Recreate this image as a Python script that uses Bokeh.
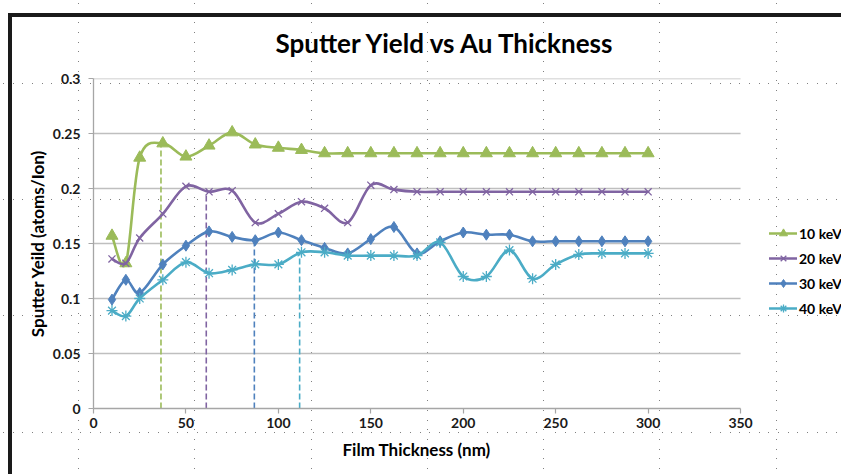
import numpy as np
from bokeh.plotting import figure
from bokeh.models import Range1d, FixedTicker, Legend, LegendItem, Title
from bokeh.embed import file_html
from bokeh.resources import INLINE

# ---------------- data ----------------
thickness = [10, 17.5, 25, 37.5, 50, 62.5, 75, 87.5, 100, 112.5, 125, 137.5, 150,
             162.5, 175, 187.5, 200, 212.5, 225, 237.5, 250, 262.5, 275, 287.5, 300]

y_10kev = [0.157, 0.132, 0.228, 0.241, 0.229, 0.239, 0.251, 0.240, 0.237, 0.235,
           0.232, 0.232, 0.232, 0.232, 0.232, 0.232, 0.232, 0.232, 0.232, 0.232,
           0.232, 0.232, 0.232, 0.232, 0.232]
y_20kev = [0.136, 0.132, 0.155, 0.177, 0.202, 0.197, 0.198, 0.169, 0.177, 0.188,
           0.182, 0.169, 0.203, 0.199, 0.197, 0.197, 0.197, 0.197, 0.197, 0.197,
           0.197, 0.197, 0.197, 0.197, 0.197]
y_30kev = [0.099, 0.117, 0.105, 0.131, 0.148, 0.161, 0.156, 0.153, 0.160, 0.153,
           0.146, 0.141, 0.154, 0.165, 0.141, 0.152, 0.160, 0.158, 0.158, 0.152,
           0.152, 0.152, 0.152, 0.152, 0.152]
y_40kev = [0.089, 0.084, 0.100, 0.117, 0.133, 0.123, 0.126, 0.131, 0.131, 0.142,
           0.142, 0.139, 0.139, 0.139, 0.139, 0.151, 0.120, 0.120, 0.144, 0.118,
           0.131, 0.140, 0.141, 0.141, 0.141]

series_labels = ["10 keV", "20 keV", "30 keV", "40 keV"]

# critical thickness drop lines (x, top y) per series
drop_x = [36.5, 61, 87, 111.5]
drop_y = [0.241, 0.196, 0.152, 0.142]

x_ticks = [0, 50, 100, 150, 200, 250, 300, 350]
y_ticks = [0, 0.05, 0.1, 0.15, 0.2, 0.25, 0.3]
y_tick_labels = ["0", "0.05", "0.1", "0.15", "0.2", "0.25", "0.3"]

# ---------------- style ----------------
colors = ["#9BBB59", "#8064A2", "#4F81BD", "#4BACC6"]
markers = ["triangle", "x", "diamond", "asterisk"]
marker_sizes = [12, 10, 11, 11]
FONT = "Lato"
GRID = "#bfbfbf"
AXIS = "#a6a6a6"
FRAME_BLACK = "#1a1a1a"


def smooth_segments(xs, ys):
    """Catmull-Rom style bezier control points (like spreadsheet smoothed lines)."""
    x = np.asarray(xs, dtype=float)
    y = np.asarray(ys, dtype=float)
    n = len(x)
    i = np.arange(n - 1)
    im1 = np.clip(i - 1, 0, n - 1)
    ip2 = np.clip(i + 2, 0, n - 1)
    cx0 = x[i] + (x[i + 1] - x[im1]) / 6.0
    cy0 = y[i] + (y[i + 1] - y[im1]) / 6.0
    cx1 = x[i + 1] - (x[ip2] - x[i]) / 6.0
    cy1 = y[i + 1] - (y[ip2] - y[i]) / 6.0
    return dict(x0=x[:-1], y0=y[:-1], x1=x[1:], y1=y[1:],
                cx0=cx0, cy0=cy0, cx1=cx1, cy1=cy1)


# frame spans to the right canvas edge so the legend can sit inside it;
# axis line and grid lines are limited to 0..350
p = figure(width=841, height=474, x_range=Range1d(0, 404.6), y_range=Range1d(0, 0.3),
           output_backend="svg", toolbar_location=None,
           min_border_left=93, min_border_right=0, min_border_top=78, min_border_bottom=66)

# page decorations behind the transparent canvas: chart-area border + dotted page grid
band = f"linear-gradient({FRAME_BLACK}, {FRAME_BLACK})"
dots_v = ("url(\"data:image/svg+xml;utf8,<svg xmlns='http://www.w3.org/2000/svg' "
          "width='116' height='10'><rect width='1' height='1' fill='%23808080'/></svg>\")")
dots_h = ("url(\"data:image/svg+xml;utf8,<svg xmlns='http://www.w3.org/2000/svg' "
          "width='10' height='116'><rect width='1' height='1' fill='%23808080'/></svg>\")")
p.styles = {"background-color": "white",
            "background-image": f"{band}, {band}, {dots_v}, {dots_h}",
            "background-size": "4px 461px, 833px 4px, 116.3px 9.7px, 9.7px 116.2px",
            "background-position": "8px 13px, 8px 13px, 78px 3px, 3px 83px",
            "background-repeat": "no-repeat, no-repeat, repeat, repeat"}

p.outline_line_color = None
p.background_fill_color = None
p.border_fill_color = None

p.title.text = "Sputter Yield vs Au Thickness"
p.title.align = "left"
p.title.text_font = FONT
p.title.text_font_size = "26px"
p.title.text_font_style = "bold"
p.title.text_color = "#000000"
p.title.offset = 182
p.title.standoff = 39

p.xgrid.visible = False
p.ygrid.visible = False
p.segment(x0=[x_ticks[0]] * (len(y_ticks) - 1), y0=y_ticks[1:],
          x1=[x_ticks[-1]] * (len(y_ticks) - 1), y1=y_ticks[1:],
          line_color=GRID, line_width=1.3)

for ax in (p.xaxis[0], p.yaxis[0]):
    ax.axis_line_color = AXIS
    ax.axis_line_width = 1.3
    ax.major_tick_line_color = AXIS
    ax.major_tick_line_width = 1.2
    ax.major_tick_in = 0
    ax.major_tick_out = 5
    ax.minor_tick_line_color = None
    ax.major_label_text_font = FONT
    ax.major_label_text_font_size = "14px"
    ax.major_label_text_font_style = "bold"
    ax.major_label_text_color = "#1a1a1a"
    ax.axis_label_text_font = FONT
    ax.axis_label_text_font_size = "17px"
    ax.axis_label_text_font_style = "bold"
    ax.axis_label_text_color = "#000000"

p.xaxis.ticker = FixedTicker(ticks=x_ticks)
p.xaxis.bounds = (x_ticks[0], x_ticks[-1])
p.yaxis.ticker = FixedTicker(ticks=y_ticks)
p.yaxis.major_label_overrides = {t: l for t, l in zip(y_ticks, y_tick_labels)}
p.yaxis.axis_label = "Sputter Yeild (atoms/Ion)"
p.xaxis.major_label_standoff = 4
p.yaxis.major_label_standoff = 8
p.yaxis.axis_label_standoff = 2

xlabel = Title(text="Film Thickness (nm)", align="left", offset=249, standoff=12,
               text_font=FONT, text_font_size="17px", text_font_style="bold",
               text_color="#000000")
p.add_layout(xlabel, "below")

# drop lines
p.segment(x0=drop_x, y0=[0] * len(drop_x), x1=drop_x, y1=drop_y,
          line_color=colors, line_width=1.6, line_dash="6 3")

legend_items = []
for ys, c, m, ms, lab in zip([y_10kev, y_20kev, y_30kev, y_40kev], colors, markers,
                             marker_sizes, series_labels):
    seg = smooth_segments(thickness, ys)
    bz = p.bezier(line_color=c, line_width=2.6, line_cap="round", **seg)
    if m in ("x", "asterisk"):
        sc = p.scatter(thickness, ys, marker=m, size=ms, line_color=c, line_width=1.3,
                       fill_color=c)
    else:
        sc = p.scatter(thickness, ys, marker=m, size=ms, line_color=c, fill_color=c)
    legend_items.append(LegendItem(label=lab, renderers=[bz, sc]))

legend = Legend(items=legend_items, location=(676, 90))
legend.border_line_color = None
legend.background_fill_alpha = 0
legend.padding = 0
legend.margin = 0
legend.spacing = 5
legend.glyph_width = 28
legend.glyph_height = 20
legend.label_height = 20
legend.label_standoff = 2
legend.label_text_font = FONT
legend.label_text_font_size = "14px"
legend.label_text_font_style = "bold"
legend.label_text_color = "#000000"
p.add_layout(legend, "center")

open("out.html", "w").write(file_html(p, INLINE))
